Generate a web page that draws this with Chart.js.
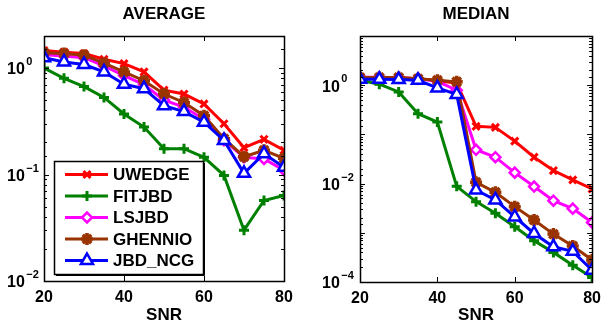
<!DOCTYPE html>
<html><head><meta charset="utf-8">
<script src="https://cdn.jsdelivr.net/npm/chart.js@4"></script>
<style>
html,body{margin:0;padding:0;background:#fff;}
#w{position:relative;width:608px;height:326px;overflow:hidden;}
.c{position:absolute;top:0;width:304px;height:326px;}
</style></head><body>
<div id="w">
<div class="c" style="left:0"><canvas id="a" width="304" height="326"></canvas></div>
<div class="c" style="left:304px"><canvas id="m" width="304" height="326"></canvas></div>
</div>
<script>
const snr = [20,25,30,35,40,45,50,55,60,65,70,75,80];
const seriesNames = ['UWEDGE','FITJBD','LSJBD','GHENNIO','JBD_NCG'];

// AVERAGE panel
const avgUWEDGE  = [1.46,1.41,1.37,1.21,1.10,0.92,0.62,0.57,0.46,0.30,0.179,0.214,0.169];
const avgFITJBD  = [1.0,0.80,0.67,0.53,0.37,0.279,0.175,0.175,0.145,0.098,0.030,0.057,0.0635];
const avgLSJBD   = [1.33,1.30,1.25,1.05,0.85,0.70,0.50,0.43,0.33,0.21,0.145,0.14,0.11];
const avgGHENNIO = [1.39,1.37,1.32,1.11,0.92,0.76,0.57,0.475,0.357,0.217,0.147,0.169,0.142];
const avgJBDNCG  = [1.25,1.14,1.08,0.92,0.705,0.64,0.443,0.39,0.31,0.209,0.1026,0.157,0.117];

// MEDIAN panel
const medUWEDGE  = [1.42,1.42,1.42,1.36,1.25,1.1,0.146,0.139,0.073,0.0344,0.0184,0.0119,0.0078];
const medFITJBD  = [1.26,1.05,0.73,0.264,0.178,0.0088,0.0043,0.0025,0.00133,0.00069,0.0004,0.00022,0.000123];
const medLSJBD   = [1.45,1.45,1.42,1.35,1.2,0.79,0.0487,0.0344,0.0167,0.0087,0.0045,0.0031,0.00162];
const medGHENNIO = [1.44,1.44,1.44,1.35,1.26,1.17,0.0106,0.00665,0.0034,0.00182,0.00094,0.00054,0.00028];
const medJBDNCG  = [1.32,1.32,1.30,1.26,0.88,0.65,0.0074,0.00465,0.0021,0.00097,0.00052,0.00042,0.000174];

const xTicks = [20,40,60,80];
const avgYLabelExps = [0,-1,-2];
const medYLabelExps = [0,-2,-4];

const colors = ['#ff0000','#008000','#ff00ff','#993300','#0000ff'];
const styles = [
  {pointStyle:'crossRot', radius:5, bg:'#ff0000', bw:3},
  {pointStyle:'cross', radius:5, bg:'#008000', bw:3},
  {pointStyle:'rectRot', radius:5, bg:'#ffffff', bw:2.5},
  {pointStyle:'star', radius:6, bg:'#993300', bw:3.5},
  {pointStyle:'triangle', radius:7, bg:'#ffffff', bw:2.5}
];

const FONT = "'Liberation Sans', Arial, sans-serif";
Chart.defaults.color = '#000';
Chart.defaults.font.family = FONT;

function buildDatasets(arrs){
  return arrs.map((vals,i)=>({
    label: seriesNames[i],
    data: snr.map((x,j)=>({x:x,y:vals[j]})),
    borderColor: colors[i],
    backgroundColor: styles[i].bg,
    borderWidth: 3,
    pointStyle: styles[i].pointStyle,
    pointRadius: styles[i].radius,
    pointBorderWidth: styles[i].bw,
    pointBackgroundColor: styles[i].bg,
    pointBorderColor: colors[i],
    fill: false,
    tension: 0,
    order: 5 - i
  }));
}

const boxPlugin = {
  id:'box',
  afterDraw(chart){
    const ctx = chart.ctx, a = chart.chartArea;
    const xs = chart.scales.x, ys = chart.scales.y;
    ctx.save();
    ctx.strokeStyle = '#000';
    ctx.lineWidth = 1;
    ctx.beginPath();
    ys.ticks.forEach(t=>{
      const l = Math.log10(t.value);
      const major = Math.abs(l - Math.round(l)) < 1e-6;
      const len = major ? 5 : 3;
      const y = Math.round(ys.getPixelForValue(t.value)) + 0.5;
      ctx.moveTo(a.left, y); ctx.lineTo(a.left + len, y);
      ctx.moveTo(a.right, y); ctx.lineTo(a.right - len, y);
    });
    xTicks.forEach(v=>{
      const x = Math.round(xs.getPixelForValue(v)) + 0.5;
      ctx.moveTo(x, a.bottom); ctx.lineTo(x, a.bottom - 5);
      ctx.moveTo(x, a.top); ctx.lineTo(x, a.top + 5);
    });
    ctx.stroke();
    ctx.lineWidth = 1.5;
    ctx.strokeRect(Math.round(a.left)+0.5, Math.round(a.top)+0.5, Math.round(a.right-a.left), Math.round(a.bottom-a.top));
    ctx.restore();
  }
};

// power-of-ten tick labels ("10" + raised exponent), positioned by the y scale
const expLabelPlugin = {
  id:'expLabels',
  afterDraw(chart, args, opts){
    const ctx = chart.ctx, ys = chart.scales.y;
    ctx.save();
    ctx.fillStyle = '#000';
    ctx.textAlign = 'left';
    ctx.textBaseline = 'middle';
    opts.exps.forEach(e=>{
      const y = ys.getPixelForValue(Math.pow(10, e));
      ctx.font = "bold 16px " + FONT;
      ctx.fillText('10', opts.x, y + 2);
      const w = ctx.measureText('10').width;
      ctx.font = "bold 11px " + FONT;
      const s = e < 0 ? '\u2212' + String(-e) : String(e);
      ctx.fillText(s, opts.x + w + 1.5, y - 6);
    });
    ctx.restore();
  }
};

function drawMarker(ctx, ds, x, y){
  if (Chart.helpers && Chart.helpers.drawPoint){
    ctx.save();
    ctx.strokeStyle = ds.pointBorderColor;
    ctx.fillStyle = ds.pointBackgroundColor;
    ctx.lineWidth = ds.pointBorderWidth;
    Chart.helpers.drawPoint(ctx, {pointStyle: ds.pointStyle, radius: ds.pointRadius, rotation: 0, borderWidth: ds.pointBorderWidth}, x, y);
    ctx.restore();
  }
}

const legendPlugin = {
  id:'insideLegend',
  afterDraw(chart, args, opts){
    if (!opts || !opts.show) return;
    const ctx = chart.ctx;
    const a = chart.chartArea;
    const bx = a.left + 10, by = 161, bw = 149, bh = 113;
    ctx.save();
    ctx.fillStyle = '#fff';
    ctx.fillRect(bx, by, bw, bh);
    ctx.strokeStyle = '#000';
    ctx.lineWidth = 1.5;
    ctx.strokeRect(bx+0.5, by+0.5, bw, bh);
    ctx.lineWidth = 1;
    ctx.beginPath();
    ctx.moveTo(bx+bw+1.5, by+2); ctx.lineTo(bx+bw+1.5, by+bh+1.5); ctx.lineTo(bx+2, by+bh+1.5);
    ctx.stroke();
    chart.data.datasets.forEach((ds,i)=>{
      const y = by + 13.5 + i*21.5;
      ctx.strokeStyle = ds.borderColor;
      ctx.lineWidth = 3;
      ctx.beginPath();
      ctx.moveTo(bx+11, y); ctx.lineTo(bx+54, y);
      ctx.stroke();
      drawMarker(ctx, ds, bx+33, y);
      ctx.fillStyle = '#000';
      ctx.font = "bold 17px " + FONT;
      ctx.textBaseline = 'middle';
      ctx.textAlign = 'left';
      ctx.fillText(ds.label, bx+59, y+1);
    });
    ctx.restore();
  }
};

function makeChart(id, title, arrs, yMin, yMax, labelExps, yw, padRight, xh, showLegend, labelX){
  return new Chart(document.getElementById(id), {
    type:'line',
    data:{ datasets: buildDatasets(arrs) },
    options:{
      responsive:false,
      animation:false,
      events:[],
      layout:{ padding:{left:0,right:padRight,top:0,bottom:0} },
      plugins:{
        legend:{display:false},
        tooltip:{enabled:false},
        title:{display:true, text:title, fullSize:false, font:{size:17, weight:'bold', family:FONT}, color:'#000', padding:{top:4,bottom:11.6}},
        insideLegend:{show:showLegend},
        expLabels:{exps:labelExps, x:labelX}
      },
      scales:{
        x:{
          type:'linear', min:20, max:80,
          afterFit: s=>{ s.height = xh; },
          grid:{display:false, drawTicks:false},
          border:{display:false},
          ticks:{ stepSize:20, autoSkip:false, padding:7, color:'#000', font:{size:16, weight:'bold', family:FONT},
            callback: v => xTicks.includes(v) ? String(v) : '' },
          title:{display:true, text:'SNR', color:'#000', font:{size:17, weight:'bold', family:FONT}, padding:{top:0,bottom:0}}
        },
        y:{
          type:'logarithmic', min:yMin, max:yMax,
          afterFit: s=>{ s.width = yw; },
          grid:{display:false, drawTicks:false},
          border:{display:false},
          ticks:{ display:false, autoSkip:false }
        }
      }
    },
    plugins:[boxPlugin, expLabelPlugin, legendPlugin]
  });
}

makeChart('a','AVERAGE',[avgUWEDGE,avgFITJBD,avgLSJBD,avgGHENNIO,avgJBDNCG],0.01,2,avgYLabelExps,44,20,45,true,7);
makeChart('m','MEDIAN',[medUWEDGE,medFITJBD,medLSJBD,medGHENNIO,medJBDNCG],0.0001,10,medYLabelExps,56,9,44,false,18);
</script>
</body></html>
